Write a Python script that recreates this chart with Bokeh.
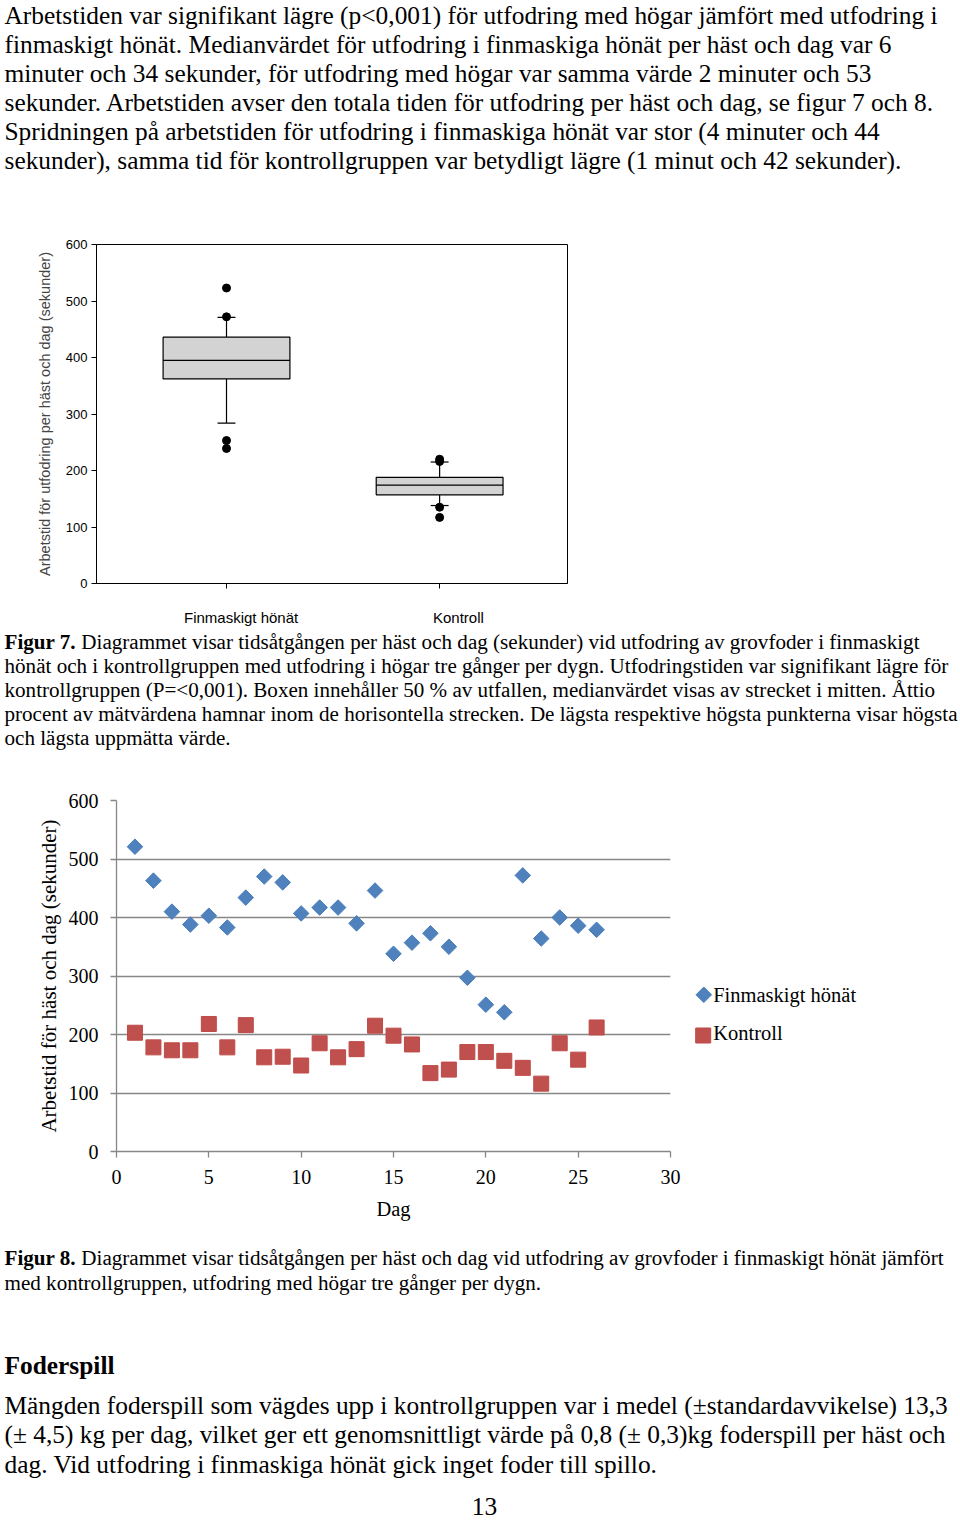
from bokeh.plotting import figure
from bokeh.models import Range1d, FixedTicker, ColumnDataSource
from bokeh.layouts import column, row
from bokeh.embed import file_html
from bokeh.resources import INLINE
from bokeh.core.properties import value
import math

# ------------------------------------------------------------------ data
days = [1, 2, 3, 4, 5, 6, 7, 8, 9, 10, 11, 12, 13,
        14, 15, 16, 17, 18, 19, 20, 21, 22, 23, 24, 25, 26]
finmaskigt_sek = [521, 463, 410, 388, 403, 383, 434, 470, 460, 407, 417, 417, 390,
                  446, 338, 357, 373, 350, 297, 251, 238, 472, 364, 400, 386, 379]
kontroll_sek = [203, 178, 173, 173, 218, 178, 216, 161, 162, 147, 185, 161, 175,
                215, 198, 183, 134, 140, 170, 170, 155, 143, 116, 185, 157, 212]
series_names = ["Finmaskigt hönät", "Kontroll"]

box_categories = ["Finmaskigt hönät", "Kontroll"]
box_pos = [1, 2]
box_q1 = [362, 157]
box_median = [395, 174]
box_q3 = [436, 188]
box_whisker_low = [284, 138]
box_whisker_high = [471, 215]
outlier_group = [1, 1, 1, 1, 2, 2, 2, 2]
outlier_values = [523, 472, 253, 239, 220, 216, 135, 117]

box_yticks = [0, 100, 200, 300, 400, 500, 600]
scatter_xticks = [0, 5, 10, 15, 20, 25, 30]
scatter_yticks = [0, 100, 200, 300, 400, 500, 600]

box_ylabel = "Arbetstid för utfodring per häst och dag (sekunder)"
scatter_ylabel = "Arbetstid för häst och dag (sekunder)"
scatter_xlabel = "Dag"

intro_lines = [
    "Arbetstiden var signifikant lägre (p<0,001) för utfodring med högar jämfört med utfodring i",
    "finmaskigt hönät. Medianvärdet för utfodring i finmaskiga hönät per häst och dag var 6",
    "minuter och 34 sekunder, för utfodring med högar var samma värde 2 minuter och 53",
    "sekunder. Arbetstiden avser den totala tiden för utfodring per häst och dag, se figur 7 och 8.",
    "Spridningen på arbetstiden för utfodring i finmaskiga hönät var stor (4 minuter och 44",
    "sekunder), samma tid för kontrollgruppen var betydligt lägre (1 minut och 42 sekunder).",
]
fig7_bold = "Figur 7."
fig7_lines = [
    "Diagrammet visar tidsåtgången per häst och dag (sekunder) vid utfodring av grovfoder i finmaskigt",
    "hönät och i kontrollgruppen med utfodring i högar tre gånger per dygn. Utfodringstiden var signifikant lägre för",
    "kontrollgruppen (P=<0,001). Boxen innehåller 50 % av utfallen, medianvärdet visas av strecket i mitten. Åttio",
    "procent av mätvärdena hamnar inom de horisontella strecken. De lägsta respektive högsta punkterna visar högsta",
    "och lägsta uppmätta värde.",
]
fig8_bold = "Figur 8."
fig8_lines = [
    "Diagrammet visar tidsåtgången per häst och dag vid utfodring av grovfoder i finmaskigt hönät jämfört",
    "med kontrollgruppen, utfodring med högar tre gånger per dygn.",
]
heading = "Foderspill"
foder_lines = [
    "Mängden foderspill som vägdes upp i kontrollgruppen var i medel (±standardavvikelse) 13,3",
    "(± 4,5) kg per dag, vilket ger ett genomsnittligt värde på 0,8 (± 0,3)kg foderspill per häst och",
    "dag. Vid utfodring i finmaskiga hönät gick inget foder till spillo.",
]
page_number = "13"

# ------------------------------------------------------------------ helpers
W = 960
SERIF = "Liberation Serif"
SANS = "Liberation Sans"
BODY = 25.4
CAP = 21.1
X0 = 4
MID = 0.3375  # baseline -> middle of the em box, in em


def text_fig(h, width=W):
    p = figure(width=width, height=h, x_range=Range1d(0, width), y_range=Range1d(h, 0),
               x_axis_type=None, y_axis_type=None, toolbar_location=None,
               output_backend="svg", min_border=0, outline_line_color=None,
               background_fill_color="white", border_fill_color="white",
               frame_align=False)
    return p


def add_text(p, xs, baselines, lines, size, bold=False, align="left", font=SERIF):
    ys = [b - MID * size for b in baselines]
    src = ColumnDataSource(dict(x=xs, y=ys, t=lines))
    p.text(x="x", y="y", text="t", source=src, text_font=value(font),
           text_font_size=f"{size}px", text_font_style="bold" if bold else "normal",
           text_align=align, text_baseline="middle", text_color="black")


def caption(p, bold, lines, y0, step, size):
    # width of the bold lead ("Figur N.") in Times-Bold em units, plus a space
    lead = (611 + 278 + 500 + 556 + 444 + 250 + 500 + 250) / 1000.0
    ys = [y0 + i * step for i in range(len(lines))]
    add_text(p, [X0], [ys[0]], [bold], size, bold=True)
    xs = [X0 + lead * size + 0.25 * size] + [X0] * (len(lines) - 1)
    add_text(p, xs, ys, lines, size)


# ------------------------------------------------------------------ block A: intro (0..185)
fa = text_fig(185)
add_text(fa, [X0] * len(intro_lines), [23 + 29 * i for i in range(len(intro_lines))],
         intro_lines, BODY)

# ------------------------------------------------------------------ block B: box plot (185..628)
bp = figure(width=W, height=443, x_range=Range1d(0.39, 2.6), y_range=Range1d(0, 600),
            toolbar_location=None, output_backend="svg", frame_align=False,
            min_border_left=96, min_border_right=393, min_border_top=59, min_border_bottom=43,
            outline_line_color="black", outline_line_width=1,
            background_fill_color="white", border_fill_color="white")
bp.xgrid.visible = False
bp.ygrid.visible = False

half = 0.2975
cap_half = 0.042
bsrc = ColumnDataSource(dict(
    x=box_pos, q1=box_q1, med=box_median, q3=box_q3, lo=box_whisker_low, hi=box_whisker_high,
    xl=[x - half for x in box_pos], xr=[x + half for x in box_pos],
    cl=[x - cap_half for x in box_pos], cr=[x + cap_half for x in box_pos]))
bp.segment(x0="x", y0="q3", x1="x", y1="hi", source=bsrc, line_color="black", line_width=1.2)
bp.segment(x0="x", y0="q1", x1="x", y1="lo", source=bsrc, line_color="black", line_width=1.2)
bp.segment(x0="cl", y0="hi", x1="cr", y1="hi", source=bsrc, line_color="black", line_width=1.2)
bp.segment(x0="cl", y0="lo", x1="cr", y1="lo", source=bsrc, line_color="black", line_width=1.2)
bp.vbar(x="x", width=2 * half, bottom="q1", top="q3", source=bsrc,
        fill_color="#D3D3D3", line_color="black", line_width=1.2)
bp.segment(x0="xl", y0="med", x1="xr", y1="med", source=bsrc, line_color="black", line_width=1.2)
bp.scatter(x=outlier_group, y=outlier_values, size=8, color="black")

bp.yaxis.ticker = FixedTicker(ticks=box_yticks)
bp.yaxis.minor_tick_line_color = None
bp.yaxis.major_tick_in = 0
bp.yaxis.major_tick_out = 5
bp.yaxis.major_label_standoff = 4
bp.yaxis.major_label_text_font = SANS
bp.yaxis.major_label_text_font_size = "13px"
bp.yaxis.major_label_text_color = "black"
bp.yaxis.axis_label = box_ylabel
bp.yaxis.axis_label_text_font = SANS
bp.yaxis.axis_label_text_font_size = "14.5px"
bp.yaxis.axis_label_text_font_style = "normal"
bp.yaxis.axis_label_standoff = 10
bp.yaxis.axis_line_color = "black"

NBSP = "\u00a0"
bp.xaxis.ticker = FixedTicker(ticks=box_pos)
bp.xaxis.minor_tick_line_color = None
bp.xaxis.major_tick_in = 0
bp.xaxis.major_tick_out = 5
bp.xaxis.axis_line_color = "black"
bp.xaxis.major_label_overrides = {pos: NBSP * pad + cat
                                  for pos, cat, pad in zip(box_pos, box_categories, [7, 9])}
bp.xaxis.major_label_text_font = SANS
bp.xaxis.major_label_text_font_size = "15px"
bp.xaxis.major_label_text_color = "black"
bp.xaxis.major_label_standoff = 20

# ------------------------------------------------------------------ block C: caption 7 (628..775)
fc = text_fig(147)
caption(fc, fig7_bold, fig7_lines, 20.3, 24.2, CAP)

# ------------------------------------------------------------------ block D: scatter + legend (775..1240)
GRAY = "#878787"
SPW = 688
sp = figure(width=SPW, height=465, x_range=Range1d(0, 30), y_range=Range1d(0, 600),
            toolbar_location=None, output_backend="svg", frame_align=False,
            min_border_left=116, min_border_right=18, min_border_top=25, min_border_bottom=89,
            outline_line_color=None, background_fill_color="white", border_fill_color="white")
sp.xgrid.visible = False
sp.ygrid.ticker = FixedTicker(ticks=scatter_yticks)
sp.ygrid.grid_line_color = GRAY
sp.ygrid.grid_line_width = 1.3

for ax, ticks in ((sp.xaxis, scatter_xticks), (sp.yaxis, scatter_yticks)):
    ax.ticker = FixedTicker(ticks=ticks)
    ax.minor_tick_line_color = None
    ax.major_tick_in = 0
    ax.major_tick_out = 6
    ax.major_tick_line_color = GRAY
    ax.major_tick_line_width = 1.3
    ax.axis_line_color = GRAY
    ax.axis_line_width = 1.3
    ax.major_label_text_font = SERIF
    ax.major_label_text_font_size = "20px"
    ax.major_label_text_color = "black"
    ax.axis_label_text_font = SERIF
    ax.axis_label_text_font_style = "normal"
    ax.axis_label_text_color = "black"
sp.yaxis.major_label_standoff = 12
sp.yaxis.axis_label = scatter_ylabel
sp.yaxis.axis_label_text_font_size = "21px"
sp.yaxis.axis_label_standoff = 5
sp.xaxis.major_label_standoff = 12
sp.xaxis.axis_label = scatter_xlabel
sp.xaxis.axis_label_text_font_size = "20.5px"
sp.xaxis.axis_label_standoff = 11

BLUE, BLUE_EDGE = "#4F81BD", "#4A7EBB"
RED, RED_EDGE = "#C0504D", "#BE4B48"
sp.scatter(x=days, y=finmaskigt_sek, marker="square", angle=math.pi / 4, size=11,
           fill_color=BLUE, line_color=BLUE_EDGE)
sp.scatter(x=days, y=kontroll_sek, marker="square", size=15,
           fill_color=RED, line_color=RED_EDGE)

lg = text_fig(465, width=W - SPW)
lg.scatter(x=[15.3], y=[219.3], marker="square", angle=math.pi / 4, size=11,
           fill_color=BLUE, line_color=BLUE_EDGE)
lg.scatter(x=[14.7], y=[260], marker="square", size=15, fill_color=RED, line_color=RED_EDGE)
add_text(lg, [24.7, 24.7], [226, 264], series_names, 20.5)

# ------------------------------------------------------------------ block E: caption 8 + text (1240..1521)
fe = text_fig(281)
caption(fe, fig8_bold, fig8_lines, 24.5, 24.8, CAP)
add_text(fe, [X0], [132.7], [heading], BODY, bold=True)
add_text(fe, [X0] * len(foder_lines), [173 + 29.3 * i for i in range(len(foder_lines))],
         foder_lines, BODY)
add_text(fe, [484], [275], [page_number], BODY, align="center")

layout = column(fa, bp, fc, row(sp, lg), fe)
open("out.html", "w").write(file_html(layout, INLINE, title="Figur 7 och 8"))
